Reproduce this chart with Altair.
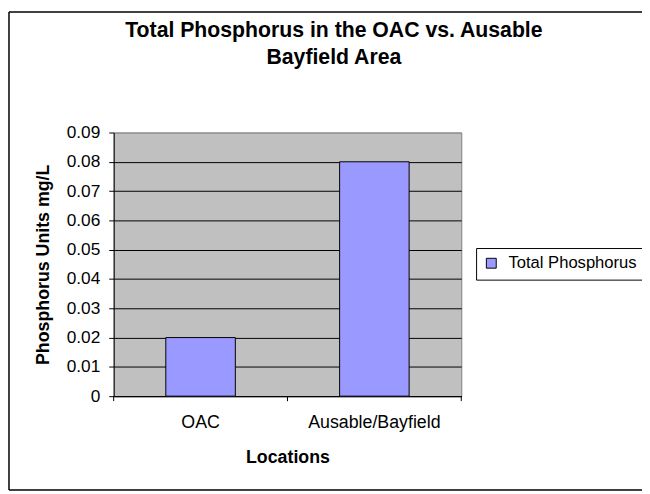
import altair as alt
import pandas as pd

locations = ["OAC", "Ausable/Bayfield"]
phosphorus = [0.02, 0.08]
series = ["Total Phosphorus", "Total Phosphorus"]
y_ticks = [0, 0.01, 0.02, 0.03, 0.04, 0.05, 0.06, 0.07, 0.08, 0.09]

df = pd.DataFrame({"loc": locations, "val": phosphorus, "series": series})

FONT = "Liberation Sans"
W, H = 352, 267

xscale = alt.Scale(domain=locations, paddingInner=0, paddingOuter=0)

base = alt.Chart(df)

bars = base.mark_bar(width={"band": 0.4}, stroke="black", strokeWidth=1).encode(
    x=alt.X(
        "loc:N",
        scale=xscale,
        sort=locations,
        axis=alt.Axis(
            title="Locations",
            labelAngle=0,
            ticks=False,
            domainColor="black",
            labelFont=FONT,
            labelFontSize=18,
            labelColor="black",
            labelPadding=18,
            titleFont=FONT,
            titleFontSize=18,
            titleFontWeight="bold",
            titleColor="black",
            titleY=67.5,
            titleBaseline="alphabetic",
        ),
    ),
    y=alt.Y(
        "val:Q",
        scale=alt.Scale(domain=[0, 0.09], nice=False, zero=True),
        axis=alt.Axis(
            title="Phosphorus Units mg/L",
            values=y_ticks,
            format=".2~f",
            grid=True,
            gridColor={"condition": {"test": "datum.value >= 0.089", "value": "#909090"}, "value": "black"},
            gridWidth=1,
            domainColor="black",
            tickColor="black",
            tickSize=5,
            labelFont=FONT,
            labelFontSize=17.5,
            labelColor="black",
            labelPadding=9,
            titleFont=FONT,
            titleFontSize=18,
            titleFontWeight="bold",
            titleColor="black",
            titleAngle=270,
            titleX=-66,
            titleBaseline="alphabetic",
        ),
    ),
    color=alt.Color(
        "series:N",
        scale=alt.Scale(range=["#9999FF"]),
        legend=alt.Legend(
            title=None,
            orient="none",
            legendX=367,
            legendY=117,
            strokeColor="black",
            fillColor="white",
            padding=7,
            symbolType="square",
            symbolSize=100,
            symbolStrokeColor="black",
            symbolStrokeWidth=1,
            symbolOpacity=1,
            labelFont=FONT,
            labelFontSize=16.8,
            labelColor="black",
            labelOffset=9,
            labelLimit=400,
        ),
    ),
)

tick_start = base.mark_rule(color="black").encode(
    x=alt.X("loc:N", scale=xscale, sort=locations, bandPosition=0),
    y=alt.value(H),
    y2=alt.value(H + 5),
)
tick_end = base.mark_rule(color="black").encode(
    x=alt.X("loc:N", scale=xscale, sort=locations, bandPosition=1),
    y=alt.value(H),
    y2=alt.value(H + 5),
)

# outer chart frame (left, top, bottom edges; right edge lies beyond the picture)
frame_left = base.mark_rule(color="black", strokeWidth=1).encode(
    x=alt.value(-106), y=alt.value(-122), y2=alt.value(362)
)
frame_top = base.mark_rule(color="black", strokeWidth=1).encode(
    x=alt.value(-106), x2=alt.value(600), y=alt.value(-122)
)
frame_bottom = base.mark_rule(color="black", strokeWidth=1).encode(
    x=alt.value(-106), x2=alt.value(600), y=alt.value(362)
)

chart = (
    alt.layer(frame_left, frame_top, frame_bottom, bars, tick_start, tick_end)
    .properties(
        width=W,
        height=H,
        autosize=alt.AutoSizeParams(type="none"),
        padding={"left": 107, "top": 123, "right": 642 - 107 - W, "bottom": 486 - 123 - H},
        title=alt.TitleParams(
            text=["Total Phosphorus in the OAC vs. Ausable", "Bayfield Area"],
            font=FONT,
            fontSize=21.5,
            fontWeight="bold",
            color="black",
            anchor="middle",
            dx=47,
            lineHeight=27,
            offset=-57.7,
        ),
    )
    .configure(background="white")
    .configure_view(fill="#C0C0C0", stroke="#808080", strokeWidth=1)
)

chart.save("out.html", embed_options={"renderer": "svg", "actions": False})
